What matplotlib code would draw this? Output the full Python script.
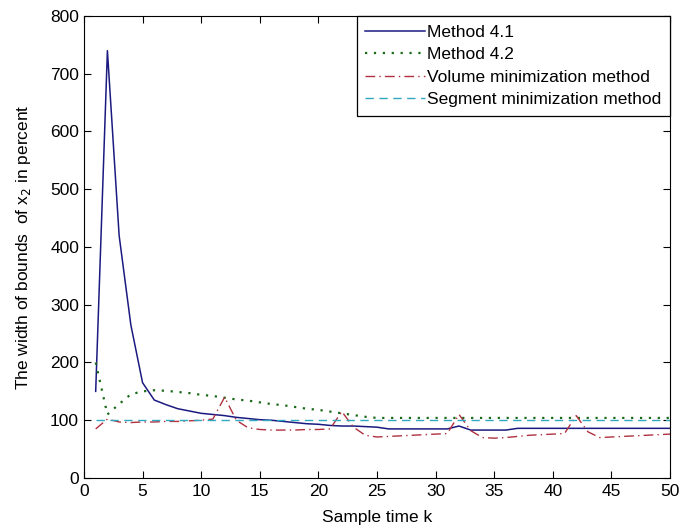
import matplotlib
matplotlib.use("Agg")
import matplotlib.pyplot as plt

plt.rcParams["font.family"] = ["Liberation Sans", "DejaVu Sans"]

k = list(range(1, 51))

method41 = [150, 740, 420, 265, 165, 135, 127, 120, 116, 112,
            110, 108, 105, 103, 101, 100, 98, 96, 94, 93,
            91, 90, 90, 89, 88, 85, 85, 85, 85, 85,
            85, 90, 83, 83, 83, 83, 86, 86, 86, 86,
            86, 86, 86, 86, 86, 86, 86, 86, 86, 86]

method42 = [200, 110, 128, 145, 150, 152, 151, 149, 147, 144,
            142, 139, 136, 134, 131, 128, 126, 123, 120, 118,
            115, 112, 109, 106, 104, 104, 104, 104, 104, 104,
            104, 104, 104, 104, 104, 104, 104, 104, 104, 104,
            104, 104, 104, 104, 104, 104, 104, 104, 104, 104]

volume = [85, 102, 97, 96, 97, 97, 98, 98, 99, 100,
          102, 140, 100, 87, 84, 83, 83, 83, 84, 84,
          85, 115, 88, 74, 71, 72, 73, 74, 75, 76,
          77, 110, 82, 70, 69, 70, 72, 74, 75, 76,
          77, 108, 80, 70, 71, 72, 73, 74, 75, 76]

segment = [100] * 50

fig = plt.figure(figsize=(6.81, 5.28), dpi=100)
ax = fig.add_axes([0.1233, 0.0947, 0.8605, 0.875])

ax.plot(k, method41, color="#1a1a80", lw=1.1, ls="-", label="Method 4.1")
ax.plot(k, method42, color="#1a6a1a", lw=1.6, ls=(0, (1, 3)), label="Method 4.2")
ax.plot(k, volume, color="#b03040", lw=1.0, ls=(0, (7, 3, 1, 3)),
        label="Volume minimization method")
ax.plot(k, segment, color="#30a8c0", lw=1.0, ls=(0, (6, 4)),
        label="Segment minimization method")

ax.set_xlim(0, 50)
ax.set_ylim(0, 800)
ax.set_xticks(range(0, 51, 5))
ax.set_yticks(range(0, 801, 100))
ax.tick_params(direction="in", top=True, right=True, labelsize=12.5, length=5)
ax.tick_params(axis="x", pad=4.5)
ax.set_xlabel("Sample time k", fontsize=12.5, labelpad=8)
ax.set_ylabel("The width of bounds  of x$_2$ in percent", fontsize=12.5, labelpad=12)

leg = ax.legend(loc="upper right", borderaxespad=0, fancybox=False,
                edgecolor="black", framealpha=1, fontsize=12.5,
                handlelength=3.45, handletextpad=0.1, labelspacing=0.42,
                borderpad=0.5)
leg.get_frame().set_linewidth(0.9)

plt.savefig("out.png", dpi=100)
